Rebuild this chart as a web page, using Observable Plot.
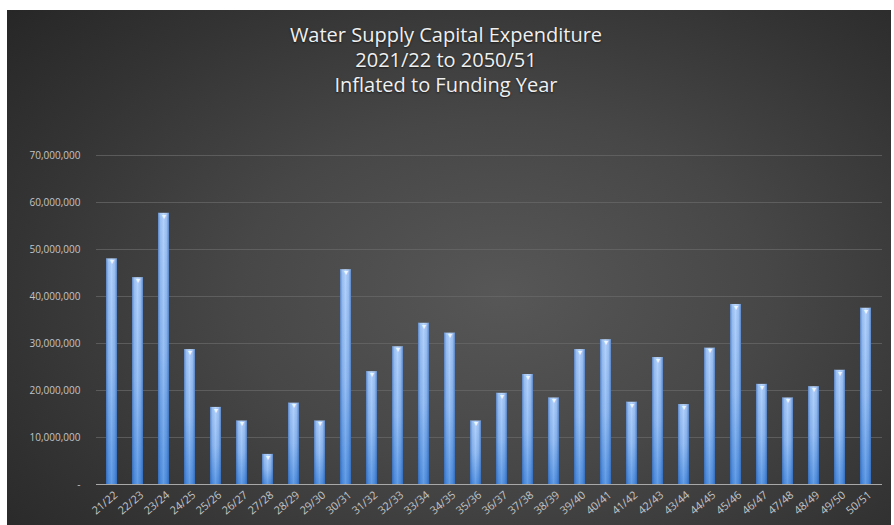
<!DOCTYPE html>
<html>
<head>
<meta charset="utf-8">
<script src="https://cdn.jsdelivr.net/npm/d3@7"></script>
<script src="https://cdn.jsdelivr.net/npm/@observablehq/plot@0.6"></script>
<style>
  html, body { margin: 0; padding: 0; background: #ffffff; }
  #chart {
    position: absolute; left: 7px; top: 10px; width: 884px; height: 515px; overflow: hidden;
    background: radial-gradient(ellipse 75% 85% at 56% 55%, #575757 0%, #474747 40%, #333333 75%, #262626 100%);
    font-family: "Open Sans", sans-serif;
  }
  #title {
    height: 95px; box-sizing: border-box; padding-top: 12px; padding-right: 6px;
    text-align: center; color: #f0f0f0; font-size: 20px; line-height: 25px;
    text-shadow: 0 1px 2px rgba(0,0,0,0.6);
  }
  #title div { margin: 0; }
  svg { display: block; }
</style>
</head>
<body>
<div id="chart">
  <div id="title">
    <div>Water Supply Capital Expenditure</div>
    <div>2021/22 to 2050/51</div>
    <div>Inflated to Funding Year</div>
  </div>
  <div id="plot"></div>
</div>
<script>
const years = ["21/22","22/23","23/24","24/25","25/26","26/27","27/28","28/29","29/30","30/31",
               "31/32","32/33","33/34","34/35","35/36","36/37","37/38","38/39","39/40","40/41",
               "41/42","42/43","43/44","44/45","45/46","46/47","47/48","48/49","49/50","50/51"];
const expenditure = [48000000, 44000000, 57700000, 28700000, 16400000, 13500000, 6400000, 17300000, 13500000, 45700000,
                     24000000, 29300000, 34300000, 32200000, 13500000, 19400000, 23400000, 18400000, 28700000, 30800000,
                     17500000, 27000000, 17000000, 29000000, 38300000, 21300000, 18400000, 20800000, 24300000, 37500000];
const yTicks = [0, 10000000, 20000000, 30000000, 40000000, 50000000, 60000000, 70000000];

const data = years.map((y, i) => ({year: y, value: expenditure[i]}));

const ns = "http://www.w3.org/2000/svg";
function defsMark() {
  const defs = document.createElementNS(ns, "defs");
  defs.innerHTML = `
    <linearGradient id="barV" x1="0" y1="0" x2="0" y2="1">
      <stop offset="0" stop-color="#b9d6fc"/>
      <stop offset="0.02" stop-color="#a8cbfa"/>
      <stop offset="0.5" stop-color="#8cb8f2"/>
      <stop offset="1" stop-color="#4d8ee0"/>
    </linearGradient>
    <linearGradient id="barH" x1="0" y1="0" x2="1" y2="0">
      <stop offset="0" stop-color="#1f4f99" stop-opacity="0.55"/>
      <stop offset="0.22" stop-color="#1f4f99" stop-opacity="0.1"/>
      <stop offset="0.5" stop-color="#ffffff" stop-opacity="0.12"/>
      <stop offset="0.78" stop-color="#1f4f99" stop-opacity="0.1"/>
      <stop offset="1" stop-color="#1f4f99" stop-opacity="0.55"/>
    </linearGradient>`;
  return defs;
}

const chart = Plot.plot({
  width: 884,
  height: 420,
  marginLeft: 89,
  marginRight: 9,
  marginTop: 50,
  marginBottom: 41,
  style: {background: "transparent", color: "#c8c8c8", fontFamily: "Open Sans, sans-serif", fontSize: "10px"},
  x: {domain: years, paddingInner: 0.56, paddingOuter: 0.25, label: null},
  y: {domain: [0, 70000000], label: null},
  marks: [
    defsMark,
    Plot.gridY(yTicks, {stroke: "#6a6a6a", strokeOpacity: 0.7, strokeWidth: 1}),
    Plot.barY(data, {x: "year", y: "value", fill: "url(#barV)"}),
    Plot.barY(data, {x: "year", y: "value", fill: "url(#barH)"}),
    Plot.text(data, {x: "year", y: "value", text: () => "▼", fill: "#eef5ff", fontSize: 7, dy: 3}),
    Plot.ruleY([0], {stroke: "#a8a8a8", strokeWidth: 1.2}),
    Plot.axisY(yTicks, {tickSize: 0, tickPadding: 16, fontSize: 10, fill: "#c4c4c4",
      tickFormat: d => d === 0 ? "-" : d3.format(",")(d)}),
    Plot.axisX({tickSize: 0, tickPadding: 5, tickRotate: -40, fontSize: 11, fill: "#c4c4c4", dx: 4, dy: 4})
  ]
});
document.getElementById("plot").appendChild(chart);
</script>
</body>
</html>
